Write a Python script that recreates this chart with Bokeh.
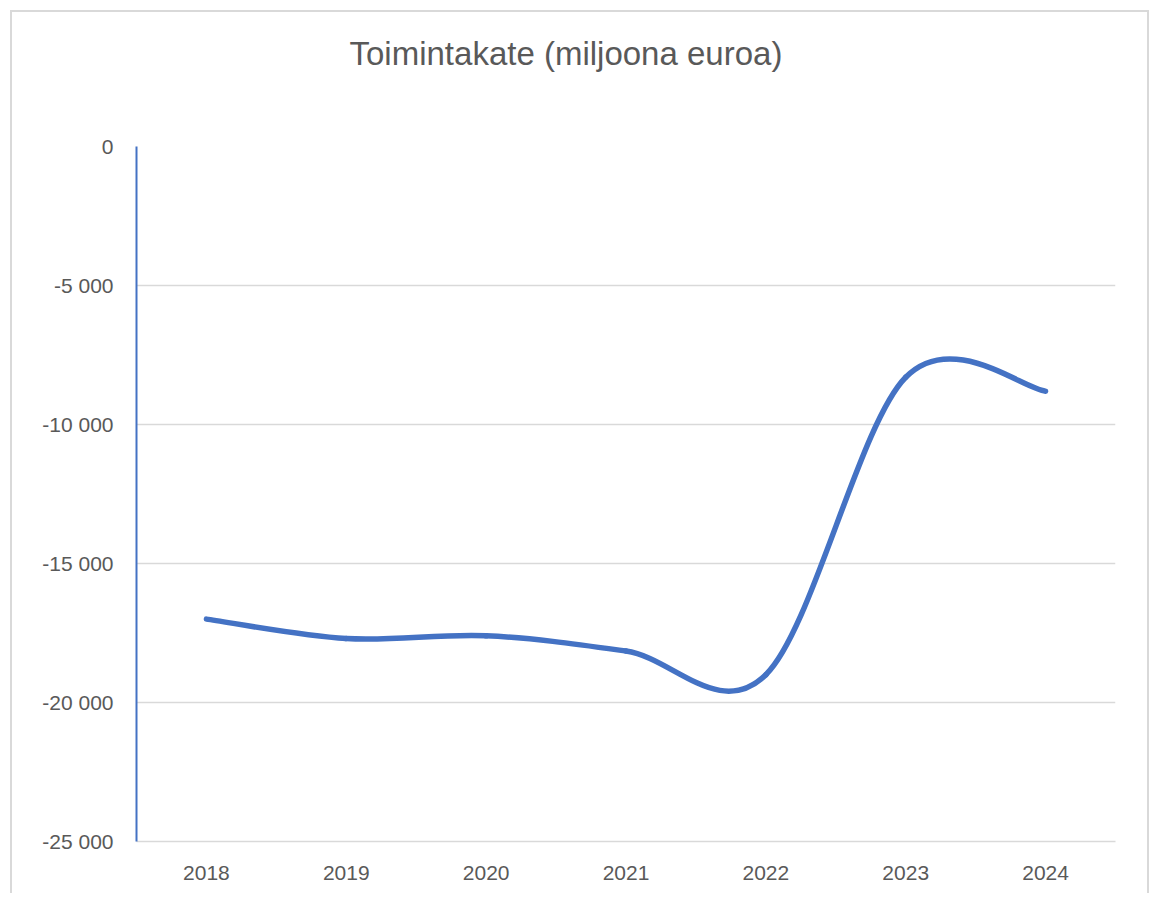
from bokeh.plotting import figure
from bokeh.models import FixedTicker, Range1d, Title
from bokeh.embed import file_html
from bokeh.resources import INLINE

# Data
years = ["2018", "2019", "2020", "2021", "2022", "2023", "2024"]
values = [-17000, -17700, -17600, -18150, -19000, -8300, -8800]
y_ticks = [-25000, -20000, -15000, -10000, -5000, 0]
y_tick_labels = ["-25 000", "-20 000", "-15 000", "-10 000", "-5 000", "0"]
title_text = "Toimintakate (miljoona euroa)"

BLUE = "#4472C4"
GREY = "#595959"
GRID = "#d9d9d9"

p = figure(width=1139, height=883, output_backend="svg", toolbar_location=None,
           x_range=Range1d(0, len(years)), y_range=Range1d(-25000, 0),
           min_border_left=124, min_border_right=36, min_border_top=134,
           min_border_bottom=54)
p.styles = {"border-top": "2px solid #d9d9d9", "border-left": "2px solid #d9d9d9",
            "border-right": "2px solid #d9d9d9", "margin": "10px 0 0 10px"}
p.outline_line_color = None
p.background_fill_color = "white"
p.border_fill_color = "white"

# default title unused (tiny, empty)
p.title.text = ""
p.title.text_font_size = "1px"
p.title.standoff = 0

# spacer between frame and the real title
spacer = Title(text=" ", text_font_size="1px", standoff=67)
p.add_layout(spacer, "above")

main_title = Title(text=title_text, text_font="Liberation Sans", text_font_size="33px",
                   text_font_style="normal", text_color=GREY, align="left",
                   offset=213, standoff=10)
p.add_layout(main_title, "above")

# x positions from categories
xs = [i + 0.5 for i in range(len(years))]

# Smoothed line (Bezier segments, Excel-like smoothing)
n = len(xs)
x0, y0, x1, y1, cx0, cy0, cx1, cy1 = [], [], [], [], [], [], [], []
for i in range(n - 1):
    pa = (xs[max(i - 1, 0)], values[max(i - 1, 0)])
    pb = (xs[i], values[i])
    pc = (xs[i + 1], values[i + 1])
    pd = (xs[min(i + 2, n - 1)], values[min(i + 2, n - 1)])
    x0.append(pb[0]); y0.append(pb[1])
    x1.append(pc[0]); y1.append(pc[1])
    cx0.append(pb[0] + (pc[0] - pa[0]) / 6.0)
    cy0.append(pb[1] + (pc[1] - pa[1]) / 6.0)
    cx1.append(pc[0] - (pd[0] - pb[0]) / 6.0)
    cy1.append(pc[1] - (pd[1] - pb[1]) / 6.0)

p.bezier(x0=x0, y0=y0, x1=x1, y1=y1, cx0=cx0, cy0=cy0, cx1=cx1, cy1=cy1,
         line_color=BLUE, line_width=5.5, line_cap="round")

# Axes
p.xaxis.ticker = FixedTicker(ticks=xs)
p.xaxis.major_label_overrides = {x: y for x, y in zip(xs, years)}
p.yaxis.ticker = FixedTicker(ticks=y_ticks)
p.yaxis.major_label_overrides = {t: l for t, l in zip(y_ticks, y_tick_labels)}

for ax in (p.xaxis, p.yaxis):
    ax.major_tick_line_color = None
    ax.minor_tick_line_color = None
    ax.major_label_text_font = "Liberation Sans"
    ax.major_label_text_font_size = "21px"
    ax.major_label_text_color = GREY

p.xaxis.axis_line_color = GRID
p.xaxis.axis_line_width = 1.5
p.xaxis.major_label_standoff = 18
p.yaxis.axis_line_color = BLUE
p.yaxis.axis_line_width = 2
p.yaxis.major_label_standoff = 17

p.xgrid.grid_line_color = None
p.ygrid.grid_line_color = GRID
p.ygrid.grid_line_width = 1.5

open("out.html", "w").write(file_html(p, INLINE))
